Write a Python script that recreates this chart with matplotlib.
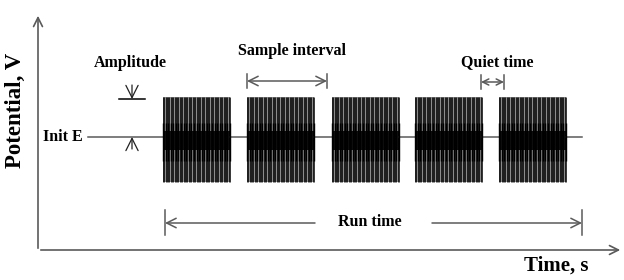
import numpy as np
import matplotlib
matplotlib.use("Agg")
import matplotlib.pyplot as plt

# -------------------- Data --------------------
# time in plot units (0 = potential axis), potential relative to Init E
burst_start = [125, 209, 294, 377, 461]
burst_len = 67
trace_start = 50
trace_end = 544
init_e = 0.0
amplitude = 43.0
cycles_per_burst = 52

plt.rcParams['font.family'] = ['Liberation Serif', 'DejaVu Serif']
gray = "#5a5a5a"

fig = plt.figure(figsize=(6.24, 2.8), dpi=100)
ax = fig.add_axes([0, 0, 1, 1])
ax.set_xlim(-38, 586)
ax.set_ylim(-143, 137)
ax.axis("off")

# -------------------- Axes arrows --------------------
ax.annotate("", xy=(0, 124), xytext=(0, -114),
            arrowprops=dict(arrowstyle="->", color=gray, lw=1.2, mutation_scale=16))
ax.annotate("", xy=(585, -113), xytext=(0, -113),
            arrowprops=dict(arrowstyle="->", color=gray, lw=1.2, mutation_scale=16))
ax.text(-23, 27, "Potential, V", rotation=90, ha="center", va="center",
        fontsize=16.5, fontweight="bold")
ax.text(518, -129, "Time, s", ha="center", va="center", fontsize=15, fontweight="bold")

# -------------------- Waveform --------------------
edges = [trace_start] + [v for s in burst_start for v in (s, s + burst_len)] + [trace_end]
for a, b in zip(edges[0::2], edges[1::2]):
    ax.plot([a, b], [init_e, init_e], color=gray, lw=1.1)

top = init_e + amplitude - 3
bot = init_e - amplitude - 2
for s in burst_start:
    e = s + burst_len
    ax.fill_between([s, e], bot, top, color="#8c8c8c", lw=0)
    t = np.linspace(s, e, cycles_per_burst + 1)
    ax.vlines(t, bot, top, color="black", lw=0.55)
    # dense centre band
    ax.fill_between([s, e], init_e - 13, init_e + 6, color="#111111", lw=0)
    ax.vlines(t[::2], init_e - 24, init_e + 14, color="black", lw=1.0)

# -------------------- Annotations --------------------
ax.text(49, 0, "Init E ", ha="right", va="center", fontsize=11.5, fontweight="bold")

ax.text(92, 74, "Amplitude", ha="center", va="center", fontsize=11.5, fontweight="bold")
ax.plot([81, 107], [38, 38], color="black", lw=1.1)
ax.annotate("", xy=(94, 38), xytext=(94, 52),
            arrowprops=dict(arrowstyle="->", color="#222222", lw=0.9, mutation_scale=22,
                            shrinkA=0, shrinkB=0))
ax.annotate("", xy=(94, 0), xytext=(94, -12),
            arrowprops=dict(arrowstyle="->", color="#222222", lw=0.9, mutation_scale=22,
                            shrinkA=0, shrinkB=0))

def span(x0, x1, y, h, ms=17, color=gray):
    ax.annotate("", xy=(x1, y), xytext=(x0, y),
                arrowprops=dict(arrowstyle="<->", color=color, lw=1.1, mutation_scale=ms,
                                shrinkA=0, shrinkB=0))
    ax.plot([x0, x0], [y - h, y + h], color=color, lw=1.1)
    ax.plot([x1, x1], [y - h, y + h], color=color, lw=1.1)

sample_a, sample_b = burst_start[1], burst_start[2] - 5
span(sample_a, sample_b, 56, 7)
ax.text(254, 86, "Sample interval", ha="center", va="center", fontsize=11.5, fontweight="bold")

quiet_a, quiet_b = burst_start[3] + burst_len - 1, burst_start[4] + 5
span(quiet_a, quiet_b, 55, 7, ms=11)
ax.text(459, 75, "Quiet time", ha="center", va="center", fontsize=11.5, fontweight="bold")

run_a, run_b = burst_start[0] + 2, trace_end
ax.annotate("", xy=(run_a, -86), xytext=(277, -86),
            arrowprops=dict(arrowstyle="->", color=gray, lw=1.1, mutation_scale=17,
                            shrinkA=0, shrinkB=0))
ax.annotate("", xy=(run_b, -86), xytext=(394, -86),
            arrowprops=dict(arrowstyle="->", color=gray, lw=1.1, mutation_scale=17,
                            shrinkA=0, shrinkB=0))
ax.plot([run_a, run_a], [-73, -98], color=gray, lw=1.1)
ax.plot([run_b, run_b], [-73, -98], color=gray, lw=1.1)
ax.text(332, -85, "Run time", ha="center", va="center", fontsize=11.5, fontweight="bold")

fig.savefig("out.png", dpi=100)
